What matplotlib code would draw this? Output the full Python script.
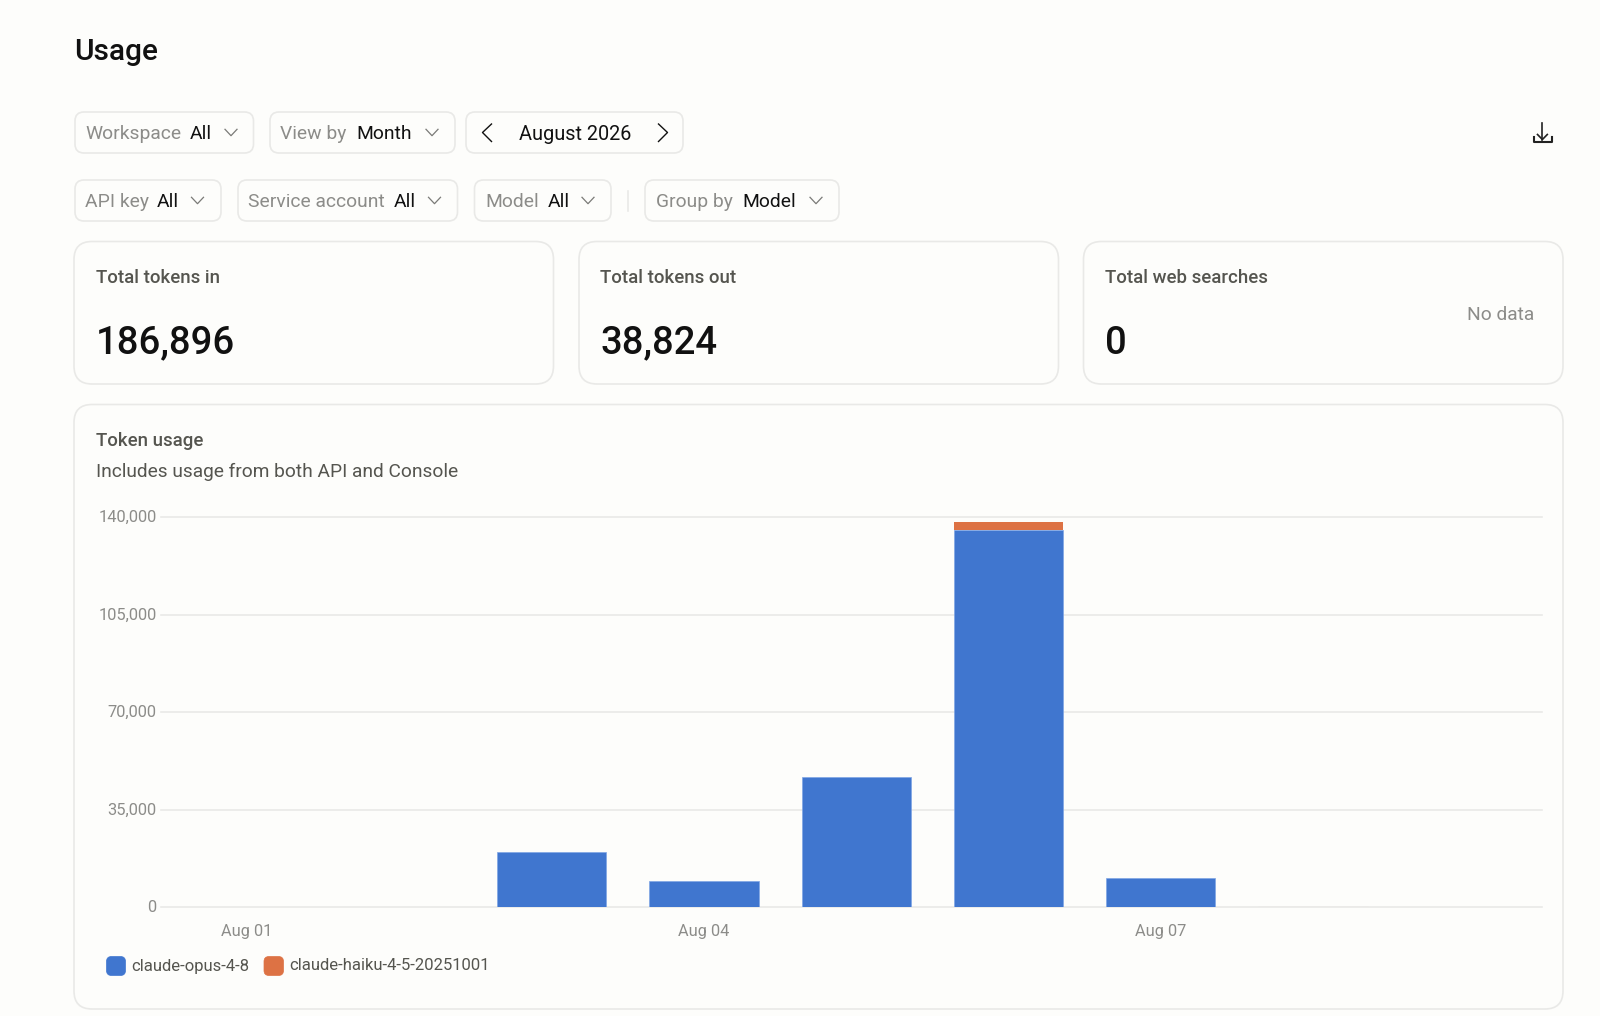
import matplotlib
matplotlib.use('Agg')
import matplotlib.pyplot as plt
from matplotlib.patches import FancyBboxPatch
from matplotlib.transforms import ScaledTranslation

plt.rcParams['font.family'] = ['Roboto', 'DejaVu Sans']

# chart data
days = ['Aug 01', 'Aug 02', 'Aug 03', 'Aug 04', 'Aug 05', 'Aug 06', 'Aug 07', 'Aug 08', 'Aug 09']
opus_tokens = [0, 0, 19900, 9500, 46800, 135300, 10500, 0, 0]
haiku_tokens = [0, 0, 0, 0, 0, 2900, 0, 120, 0]
series_names = ['claude-opus-4-8', 'claude-haiku-4-5-20251001']
y_ticks = [0, 35000, 70000, 105000, 140000]
x_tick_days = ['Aug 01', 'Aug 04', 'Aug 07']

# page content
page_title = 'Usage'
chart_title = 'Token usage'
chart_subtitle = 'Includes usage from both API and Console'
stat_labels = ['Total tokens in', 'Total tokens out', 'Total web searches']
stat_values = ['186,896', '38,824', '0']
date_label = 'August 2026'

BG = '#FDFDFB'
BORDER = '#E9E9E7'
BLUE = '#4076CF'
ORANGE = '#DD7244'
GRAY = '#8C8C89'
DARK = '#111111'
MID = '#55554F'

W, H = 1600, 1016
fig = plt.figure(figsize=(W / 100, H / 100), dpi=100, facecolor=BG)

# whole-page axes in pixel coordinates for the UI around the chart
ui = fig.add_axes([0, 0, 1, 1])
ui.set_xlim(0, W)
ui.set_ylim(H, 0)
ui.axis('off')


def box(x0, y0, x1, y1, r, fc=BG, ec=BORDER, lw=1.2):
    ui.add_patch(FancyBboxPatch((x0, y0), x1 - x0, y1 - y0,
                                boxstyle=f'round,pad=0,rounding_size={r}',
                                fc=fc, ec=ec, lw=lw))


def label(x, y, s, size, color=DARK, ha='left', weight='normal'):
    ui.text(x, y, s, fontsize=size, color=color, ha=ha, va='center_baseline', fontweight=weight)


def chevron(cx, cy, color='#7A7A77'):
    ui.plot([cx - 6, cx, cx + 6], [cy - 3.2, cy + 3.2, cy - 3.2], color=color, lw=0.9)


label(74, 49.5, page_title, 21.5, weight='medium')

# filter pills: box left, box right, label, label x, value, value x, chevron x
pills_row1 = [
    (75, 253.5, 'Workspace', 85, 'All', 189.5, 231),
    (270, 455, 'View by', 280.5, 'Month', 356.5, 432),
]
pills_row2 = [
    (75, 221, 'API key', 85, 'All', 157, 197.5),
    (238, 457.5, 'Service account', 247.5, 'All', 394, 434.5),
    (474.5, 611, 'Model', 485, 'All', 547.5, 588),
    (645, 839, 'Group by', 655.5, 'Model', 742.5, 816),
]
for pills, y0, y1 in [(pills_row1, 112, 153), (pills_row2, 180, 221)]:
    cy = (y0 + y1) / 2
    for x0, x1, name, name_x, value, value_x, chev_x in pills:
        box(x0, y0, x1, y1, 9)
        label(name_x, cy - 0.5, name, 13.9, GRAY)
        label(value_x, cy - 0.5, value, 13.9)
        chevron(chev_x, cy)

# month picker
box(466, 112, 683, 153, 9)
label(519, 132, date_label, 14.3)
ui.plot([491.5, 482.5, 491.5], [124, 132.5, 141.5], color=DARK, lw=1.0)
ui.plot([658.5, 667.5, 658.5], [124, 132.5, 141.5], color=DARK, lw=1.0)
ui.plot([627.5, 627.5], [191, 211], color=BORDER, lw=1.2)

# download icon
ui.plot([1542.4, 1542.4], [123, 139.5], color='#222222', lw=1.2)
ui.plot([1537.5, 1542.4, 1547.3], [134.5, 139.5, 134.5], color='#222222', lw=1.2)
ui.plot([1533.5, 1533.5, 1551.5, 1551.5], [137, 141.5, 141.5, 137], color='#222222', lw=1.5)

# stat cards
card_edges = [(74, 553.5), (579, 1058.5), (1083.5, 1563)]
for (x0, x1), name, value in zip(card_edges, stat_labels, stat_values):
    box(x0, 241.5, x1, 384, 18)
    label(x0 + 21.5, 276, name, 13.4, MID, weight='medium')
    label(x0 + 21.5, 339, value, 27.5, DARK, weight='medium')
label(1534, 313, 'No data', 13.8, GRAY, ha='right')

# chart card
box(74, 404.5, 1563, 1009, 18)
label(95.5, 438.5, chart_title, 13.4, MID, weight='medium')
label(95.5, 470, chart_subtitle, 13.8, MID)

# chart axes, placed so the grid and bars land where the reference has them
left, right, top, bottom = 160.7, 1541.8, 517, 907
ax = fig.add_axes([left / W, 1 - bottom / H, (right - left) / W, (bottom - top) / H])
ax.patch.set_alpha(0)
positions = list(range(len(days)))
bar_width = 0.718
opus_bars = ax.bar(positions, opus_tokens, width=bar_width, color=BLUE, edgecolor='#7FA5E5',
                   linewidth=[0.5 if v else 0 for v in opus_tokens], label=series_names[0], zorder=3)
haiku_bars = ax.bar(positions, haiku_tokens, width=bar_width, bottom=opus_tokens, color=ORANGE,
                    linewidth=0, label=series_names[1], zorder=3)
# the Aug 08 sliver is under a pixel tall and shows only as a faint tint
haiku_bars[7].set_edgecolor(ORANGE)
haiku_bars[7].set_linewidth(0.8)
haiku_bars[7].set_alpha(0.2)
ax.set_xlim(-0.567, 8.502)
ax.set_ylim(0, 140000)
ax.set_yticks(y_ticks)
ax.set_yticklabels([f'{v:,}' for v in y_ticks])
ax.set_xticks([days.index(d) for d in x_tick_days])
ax.set_xticklabels(x_tick_days)
ax.tick_params(axis='both', length=0, labelcolor=GRAY, labelsize=11.8)
ax.tick_params(axis='y', pad=3)
ax.tick_params(axis='x', pad=12)
# nudge the y labels up a touch, the reference sits them just above the grid line
for tick_label in ax.get_yticklabels():
    tick_label.set_transform(tick_label.get_transform() + ScaledTranslation(0, 0.5 / 72, fig.dpi_scale_trans))
ax.grid(axis='y', color=BORDER, lw=1.2, zorder=1, clip_on=False)
for spine in ax.spines.values():
    spine.set_visible(False)

# legend
legend_items = [(106.5, 125.5, 131.5, BLUE), (264, 283.5, 289.5, ORANGE)]
for (x0, x1, text_x, color), name in zip(legend_items, series_names):
    box(x0, 956.5, x1, 975.5, 5, fc=color, ec=color, lw=0.5)
    label(text_x, 964.5, name, 12.0, MID)

fig.savefig('out.png', dpi=100, facecolor=BG)
